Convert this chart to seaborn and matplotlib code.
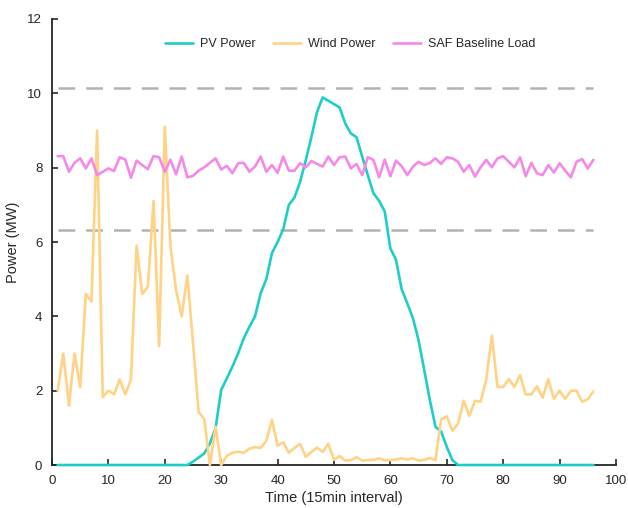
import matplotlib
matplotlib.use("Agg")
import matplotlib.pyplot as plt
import seaborn as sns
import pandas as pd

# time steps (15 min intervals)
steps = list(range(1, 97))

pv_power = [0.0] * 24 + [
    0.09, 0.2, 0.31, 0.58, 0.99, 2.02, 2.33, 2.65, 3.0, 3.41, 3.72, 4.0,
    4.62, 5.0, 5.7, 6.0, 6.34, 7.0, 7.2, 7.62, 8.2, 8.83, 9.5, 9.89,
    9.8, 9.71, 9.62, 9.19, 8.92, 8.82, 8.3, 7.8, 7.31, 7.11, 6.82, 5.83,
    5.52, 4.73, 4.35, 3.95, 3.36, 2.56, 1.75, 1.03, 0.9, 0.49, 0.13,
] + [0.0] * 25

wind_power = [
    2.0, 3.0, 1.6, 3.0, 2.1, 4.6, 4.4, 9.0, 1.83, 2.0, 1.9, 2.3,
    1.9, 2.3, 5.9, 4.6, 4.8, 7.1, 3.2, 9.1, 5.9, 4.7, 4.0, 5.1,
    3.3, 1.43, 1.23, 0.0, 1.03, 0.0, 0.25, 0.33, 0.36, 0.33, 0.44, 0.48,
    0.46, 0.65, 1.22, 0.52, 0.61, 0.33, 0.46, 0.57, 0.22, 0.35, 0.47, 0.35,
    0.57, 0.14, 0.24, 0.12, 0.13, 0.21, 0.12, 0.13, 0.14, 0.18, 0.13, 0.13,
    0.15, 0.18, 0.15, 0.18, 0.12, 0.14, 0.19, 0.13, 1.23, 1.31, 0.92, 1.12,
    1.73, 1.32, 1.73, 1.70, 2.3, 3.48, 2.1, 2.1, 2.31, 2.1, 2.42, 1.9,
    1.9, 2.12, 1.81, 2.31, 1.78, 2.0, 1.78, 2.0, 2.0, 1.70, 1.77, 1.98,
]

saf_load = [
    8.31, 8.31, 7.89, 8.13, 8.25, 7.98, 8.25, 7.80, 7.89, 7.98, 7.91, 8.28,
    8.22, 7.73, 8.19, 8.07, 7.96, 8.31, 8.28, 7.89, 8.21, 7.82, 8.30, 7.74,
    7.78, 7.92, 8.01, 8.13, 8.25, 7.95, 8.05, 7.85, 8.12, 8.13, 7.89, 8.03,
    8.30, 7.89, 8.07, 7.86, 8.30, 7.92, 7.92, 8.12, 8.01, 8.18, 8.10, 8.03,
    8.30, 8.07, 8.28, 8.30, 7.98, 8.10, 7.80, 8.28, 8.21, 7.74, 8.22, 7.77,
    8.19, 8.04, 7.80, 8.03, 8.16, 8.07, 8.13, 8.25, 8.10, 8.28, 8.25, 8.16,
    7.89, 8.07, 7.76, 8.01, 8.21, 8.01, 8.25, 8.31, 8.16, 8.01, 8.28, 7.77,
    8.13, 7.85, 7.80, 8.07, 7.87, 8.12, 7.92, 7.74, 8.16, 8.23, 7.98, 8.21,
]

# reference levels (dashed)
upper_level = 10.14
lower_level = 6.32

series_names = ["PV Power", "Wind Power", "SAF Baseline Load"]
colors = ["#1fcdc8", "#ffd285", "#f588e8"]

df = pd.DataFrame({
    "step": steps * 3,
    "power": pv_power + wind_power + saf_load,
    "series": [series_names[0]] * 96 + [series_names[1]] * 96 + [series_names[2]] * 96,
})

sns.set_style("ticks")
plt.rcParams["font.family"] = ["Liberation Sans", "DejaVu Sans"]

fig = plt.figure(figsize=(6.28, 5.08), dpi=100)
ax = fig.add_axes([0.0828, 0.0846, 0.898, 0.878])

ax.axhline(upper_level, xmin=0.01, xmax=0.96, color="#b3b3b3", lw=1.8, dashes=(6.7, 4.4))
ax.axhline(lower_level, xmin=0.01, xmax=0.96, color="#b3b3b3", lw=1.8, dashes=(6.7, 4.4))

sns.lineplot(data=df, x="step", y="power", hue="series", hue_order=series_names,
             palette=colors, linewidth=1.9, ax=ax)
# lines sit on top of the axis spine, as in the original
for line in ax.get_lines()[2:]:
    line.set_zorder(3)
    line.set_clip_on(False)

ax.set_xlim(0, 100)
ax.set_ylim(0, 12)
ax.set_xticks(range(0, 101, 10))
ax.set_yticks(range(0, 13, 2))
ax.set_xlabel("Time (15min interval)", fontsize=10.5, labelpad=3)
ax.set_ylabel("Power (MW)", fontsize=10.5, labelpad=5)
ax.tick_params(direction="in", length=4, width=1.2, labelsize=9.5, pad=7, colors="#262626")
for side in ["top", "right"]:
    ax.spines[side].set_visible(False)
for side in ["left", "bottom"]:
    ax.spines[side].set_linewidth(1.3)
    ax.spines[side].set_color("#262626")

ax.legend(loc="center", bbox_to_anchor=(0.528, 0.944), ncol=3, frameon=False,
          fontsize=9, handlelength=2.3, columnspacing=1.4, handletextpad=0.5, title=None)

fig.savefig("out.png", dpi=100)
